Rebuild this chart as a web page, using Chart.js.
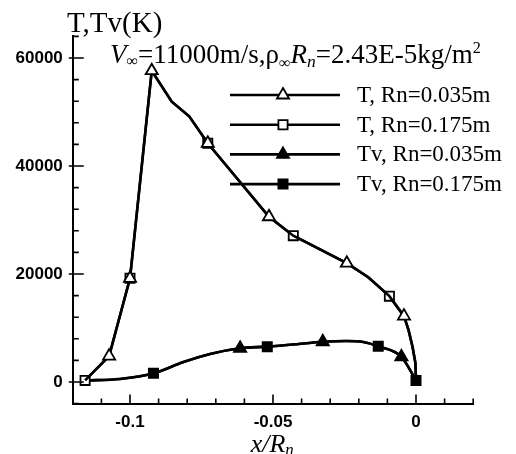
<!DOCTYPE html>
<html>
<head>
<meta charset="utf-8">
<script src="https://cdn.jsdelivr.net/npm/chart.js@4.4.1/dist/chart.umd.min.js"></script>
<style>
  html, body { margin: 0; padding: 0; background: #fff; }
  #wrap { width: 516px; height: 454px; }
</style>
</head>
<body>
<div id="wrap"><canvas id="tchart"></canvas></div>
<script>
// translational temperature T along the stagnation line (x/Rn)
const tX = [-0.1157, -0.1073, -0.1000, -0.0924, -0.0854, -0.0793, -0.0728, -0.0514, -0.0429, -0.0242, -0.0167, -0.0093, -0.0042, -0.0026, -0.0012, -0.0002, 0];
const tRn035 = [300, 4800, 19200, 57650, 51900, 49200, 44200, 30600, 27100, 22000, 19400, 15900, 12200, 9600, 6500, 3500, 300];
const tRn175 = [300, 4800, 19200, 57650, 51900, 49200, 44200, 30600, 27100, 22000, 19400, 15900, 12200, 9600, 6500, 3500, 300];
const tRn035Marks = [1, 2, 3, 6, 7, 9, 12];
const tRn175Marks = [0, 2, 6, 8, 11];

// vibrational temperature Tv
const tvX = [-0.1157, -0.1035, -0.0918, -0.0813, -0.0720, -0.0615, -0.0520, -0.0417, -0.0326, -0.0243, -0.0184, -0.0132, -0.0051, 0];
const tvRn035 = [300, 550, 1600, 3700, 5200, 6250, 6550, 7000, 7450, 7600, 7400, 6600, 4650, 300];
const tvRn175 = [300, 550, 1600, 3700, 5200, 6250, 6550, 7000, 7450, 7600, 7400, 6600, 4650, 300];
const tvRn035Marks = [5, 8, 12];
const tvRn175Marks = [2, 6, 11, 13];

const xLabelled = [-0.1, -0.05, 0];
const yLabelled = [0, 20000, 40000, 60000];

const SERIF = '"Liberation Serif", "Times New Roman", serif';
const SANS = '"Liberation Sans", Arial, sans-serif';

function series(label, xs, ys, marks, style, filled, smooth) {
  return {
    label: label,
    data: xs.map((x, i) => ({ x: x, y: ys[i] })),
    showLine: true,
    borderColor: '#000',
    borderWidth: 2.6,
    pointStyle: style,
    pointRadius: c => marks.includes(c.dataIndex) ? (style === 'triangle' ? 7 : 6.5) : 0,
    pointHoverRadius: 0,
    pointBackgroundColor: filled ? '#000' : '#fff',
    pointBorderColor: '#000',
    pointBorderWidth: 1.8,
    tension: 0,
    cubicInterpolationMode: smooth ? 'monotone' : 'default'
  };
}

function near(v, list) {
  return list.find(a => Math.abs(a - v) < 1e-9);
}

// inward tick marks, Tecplot style
const tickPlugin = {
  id: 'inwardTicks',
  afterDraw(chart) {
    const ctx = chart.ctx;
    const xs = chart.scales.x, ys = chart.scales.y;
    ctx.save();
    ctx.strokeStyle = '#000';
    ctx.lineWidth = 1.6;
    ctx.beginPath();
    xs.ticks.forEach(t => {
      const px = xs.getPixelForValue(t.value);
      const major = Math.abs(t.value * 20 - Math.round(t.value * 20)) < 1e-6;
      ctx.moveTo(px, xs.top);
      ctx.lineTo(px, xs.top - (major ? 9 : 5));
    });
    ys.ticks.forEach(t => {
      const py = ys.getPixelForValue(t.value);
      const major = t.value % 20000 === 0;
      ctx.moveTo(ys.right - (major ? 4 : 0), py);
      ctx.lineTo(ys.right + (major ? 11 : 6), py);
    });
    ctx.stroke();
    ctx.restore();
  }
};

function drawRich(ctx, x, y, parts, base) {
  parts.forEach(p => {
    const size = base * (p.s || 1);
    ctx.font = (p.i ? 'italic ' : '') + size + 'px ' + SERIF;
    ctx.fillText(p.t, x, y + (p.dy || 0));
    x += ctx.measureText(p.t).width + (p.gap || 0);
  });
}

const textPlugin = {
  id: 'texts',
  afterDraw(chart) {
    const ctx = chart.ctx;
    const a = chart.chartArea;
    ctx.save();
    ctx.fillStyle = '#000';
    ctx.textBaseline = 'alphabetic';
    ctx.textAlign = 'left';
    drawRich(ctx, 67, 32, [{ t: 'T,Tv(K)' }], 29);
    drawRich(ctx, 110, 63, [
      { t: 'V', i: true },
      { t: '\u221e', s: 0.6, dy: 3 },
      { t: '=11000m/s,\u03c1' },
      { t: '\u221e', s: 0.6, dy: 5 },
      { t: 'R', i: true },
      { t: 'n', i: true, s: 0.65, dy: 4 },
      { t: '=2.43E-5kg/m' },
      { t: '2', s: 0.6, dy: -10 }
    ], 27);
    const cx = (a.left + a.right) / 2;
    ctx.font = 'italic 26px ' + SERIF;
    const w = ctx.measureText('x/R').width + 10;
    drawRich(ctx, cx - w / 2, 452, [
      { t: 'x/R', i: true },
      { t: 'n', i: true, s: 0.65, dy: 3 }
    ], 26);

    // legend: line with marker, then label
    chart.data.datasets.forEach((ds, i) => {
      const y = 95 + i * 29.7;
      ctx.strokeStyle = '#000';
      ctx.lineWidth = 2.6;
      ctx.beginPath();
      ctx.moveTo(230, y);
      ctx.lineTo(340, y);
      ctx.stroke();
      ctx.fillStyle = ds.pointBackgroundColor;
      ctx.lineWidth = 1.8;
      Chart.helpers.drawPoint(ctx, {
        pointStyle: ds.pointStyle,
        radius: ds.pointStyle === 'triangle' ? 7 : 6.5,
        borderWidth: 1.8,
        rotation: 0
      }, 283, y);
      ctx.fillStyle = '#000';
      ctx.font = '23px ' + SERIF;
      ctx.textBaseline = 'middle';
      ctx.fillText(ds.label, 357, y + 1);
      ctx.textBaseline = 'alphabetic';
    });
    ctx.restore();
  }
};

new Chart(document.getElementById('tchart'), {
  type: 'scatter',
  data: {
    datasets: [
      series('T, Rn=0.035m', tX, tRn035, tRn035Marks, 'triangle', false, false),
      series('T, Rn=0.175m', tX, tRn175, tRn175Marks, 'rect', false, false),
      series('Tv, Rn=0.035m', tvX, tvRn035, tvRn035Marks, 'triangle', true, true),
      series('Tv, Rn=0.175m', tvX, tvRn175, tvRn175Marks, 'rect', true, true)
    ]
  },
  options: {
    responsive: true,
    maintainAspectRatio: false,
    animation: false,
    events: [],
    layout: { padding: { left: 0, right: 42.8, top: 36.4, bottom: 0 } },
    plugins: {
      legend: { display: false },
      tooltip: { enabled: false }
    },
    scales: {
      x: {
        type: 'linear',
        min: -0.12,
        max: 0.02,
        afterFit: s => { s.height = 50.4; },
        grid: { display: false, drawTicks: false },
        border: { display: true, color: '#000', width: 2 },
        ticks: {
          stepSize: 0.01,
          padding: 9,
          color: '#000',
          font: { family: SANS, size: 17, weight: 'bold' },
          maxRotation: 0,
          autoSkip: false,
          callback: v => { const m = near(v, xLabelled); return m === undefined ? '' : String(m); }
        }
      },
      y: {
        min: -4000,
        max: 64000,
        afterFit: s => { s.width = 72.8; },
        grid: { display: false, drawTicks: false },
        border: { display: true, color: '#000', width: 2 },
        ticks: {
          stepSize: 4000,
          padding: 10,
          color: '#000',
          font: { family: SANS, size: 17, weight: 'bold' },
          autoSkip: false,
          callback: v => { const m = near(v, yLabelled); return m === undefined ? '' : String(m); }
        }
      }
    }
  },
  plugins: [tickPlugin, textPlugin]
});
</script>
</body>
</html>
